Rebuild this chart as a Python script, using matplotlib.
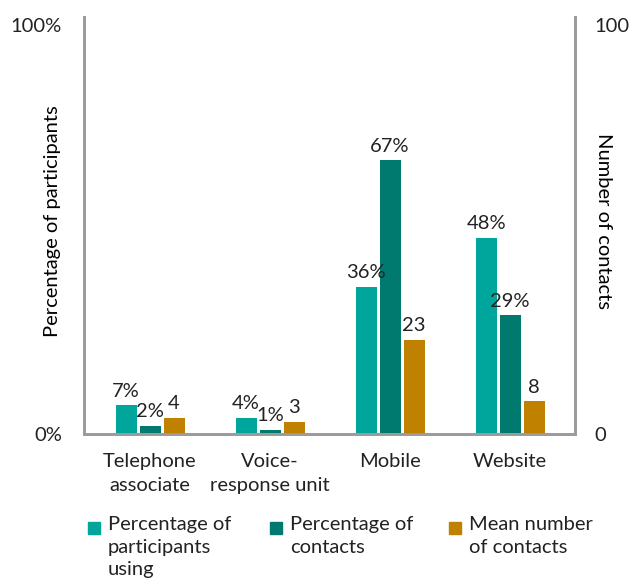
import matplotlib
matplotlib.use("Agg")
import matplotlib.pyplot as plt
import matplotlib.patches as mpatches
import numpy as np

# ── Data ───────────────────────────────────────────────────────────────────────
channels      = ["Telephone\nassociate", "Voice-\nresponse unit", "Mobile", "Website"]
pct_using     = [7, 4, 36, 48]     # % of participants using
pct_contacts  = [2, 1, 67, 29]     # % of contacts
mean_contacts = [4, 3, 23, 8]      # mean number of contacts (right axis)

C_USING    = "#00a59b"
C_CONTACTS = "#00796f"
C_MEAN     = "#c08000"
SPINE      = "#9b9b9b"
TEXT       = "#222222"
FS         = 14.5

plt.rcParams.update({
    "font.family": ["Lato", "DejaVu Sans"],
    "font.size":   FS,
    "text.color":  TEXT,
})

fig = plt.figure(figsize=(6.31, 5.84), dpi=100)
ax = fig.add_axes([84/631, 150/584, 491/631, 417/584])
ax2 = ax.twinx()

x = np.arange(len(channels))
w, off = 0.175, 0.2

b1 = ax.bar(x - off, pct_using, w, color=C_USING)
b2 = ax.bar(x, pct_contacts, w, color=C_CONTACTS)
b3 = ax2.bar(x + off, mean_contacts, w, color=C_MEAN)

for bars, vals, a, fmt in [(b1, pct_using, ax, "{}%"),
                           (b2, pct_contacts, ax, "{}%"),
                           (b3, mean_contacts, ax2, "{}")]:
    for b, v in zip(bars, vals):
        a.annotate(fmt.format(v), (b.get_x() + b.get_width()/2, v),
                   xytext=(0, 4), textcoords="offset points",
                   ha="center", va="bottom", color=TEXT)

for a in (ax, ax2):
    a.set_ylim(0, 102)
    a.set_xlim(-0.55, 3.54)
    for s in a.spines.values():
        s.set_color(SPINE)
        s.set_linewidth(2)
    a.spines["top"].set_visible(False)
    a.tick_params(length=0, colors=TEXT, labelsize=FS)

ax.set_yticks([0, 100])
ax.set_yticklabels(["0%", "100%"])
ax.tick_params(axis="y", pad=16)
ax2.set_yticks([0, 100])
ax2.set_yticklabels(["0", "100"])
ax2.tick_params(axis="y", pad=14)

ax.set_xticks(x)
ax.set_xticklabels(channels, linespacing=1.45)
ax.tick_params(axis="x", pad=14)

ax.set_ylabel("Percentage of participants")
ax.yaxis.set_label_coords(-0.046, 0.51)
ax2.set_ylabel("Number of contacts", rotation=270, va="center")
ax2.yaxis.set_label_coords(1.058, 0.51)

# ── Legend ─────────────────────────────────────────────────────────────────────
legend_items = [
    (C_USING,    "Percentage of\nparticipants\nusing", 88),
    (C_CONTACTS, "Percentage of\ncontacts",            270),
    (C_MEAN,     "Mean number\nof contacts",           449),
]
for col, label, px in legend_items:
    fig.patches.append(mpatches.Rectangle((px/631, 1 - 534/584), 12/631, 12/584,
                                          transform=fig.transFigure, color=col))
    fig.text((px + 20)/631, 1 - 516/584, label, ha="left", va="top",
             linespacing=1.4, color=TEXT)

plt.savefig("out.png", dpi=100)
